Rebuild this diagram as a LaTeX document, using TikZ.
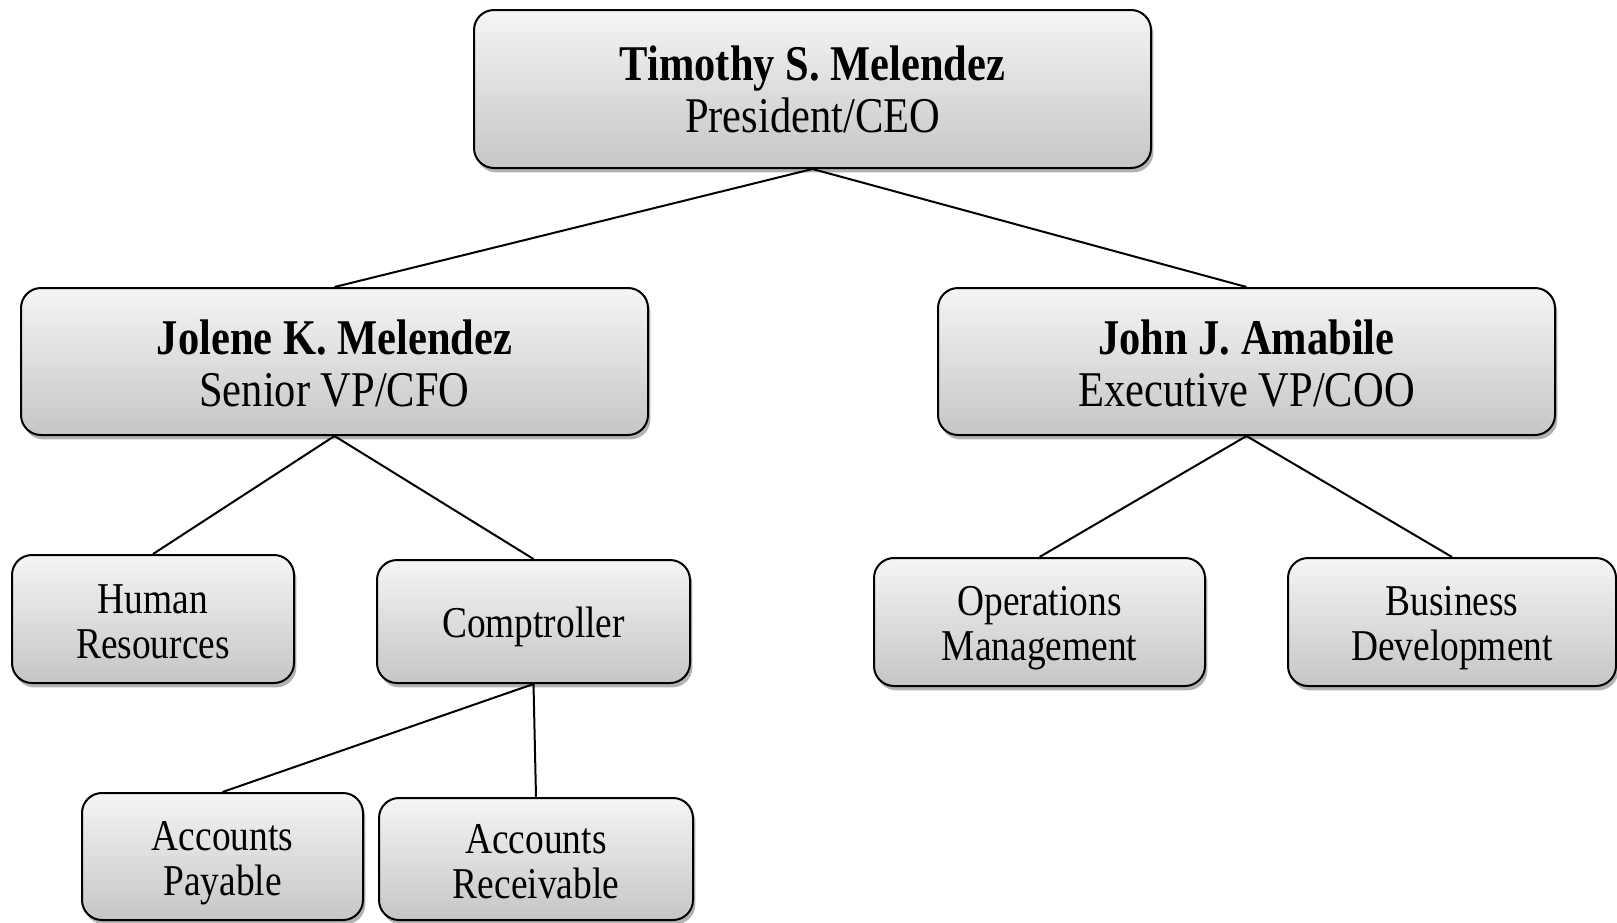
\documentclass[tikz,border=0pt]{standalone}
\usepackage{fontspec}
\setmainfont[FakeStretch=0.85]{Liberation Serif}
\usetikzlibrary{shadows}
\newcommand\tallstrut{\rule{0pt}{20.5pt}}
\newcommand\midstrut{\rule{0pt}{17.6pt}}
\newcommand\bigstrut{\rule{0pt}{19pt}}
\tikzset{
  orgbox/.style={rectangle, rounded corners=10pt, draw=black, line width=1pt,
    top color=gray!8, bottom color=gray!45, align=center, inner sep=0pt,
    drop shadow={shadow xshift=1.2pt, shadow yshift=-2.2pt, fill=black, opacity=0.3}},
  bigtext/.style={font=\fontsize{25pt}{26pt}\selectfont},
  smalltext/.style={font=\fontsize{22pt}{22.5pt}\selectfont},
  link/.style={draw=black, line width=1pt}
}
\begin{document}
\begin{tikzpicture}[x=0.5pt,y=-0.5pt]
\useasboundingbox (0,0) rectangle (1617,922);
\node[orgbox, bigtext, minimum width=338.5pt, minimum height=79pt] (ceo) at (812.5,89)
  {\textbf{Timothy S. Melendez}\\President/CEO};
\node[orgbox, bigtext, minimum width=313.5pt, minimum height=73.5pt] (cfo) at (334.5,361.5)
  {\bigstrut\textbf{Jolene K. Melendez}\\Senior VP/CFO};
\node[orgbox, bigtext, minimum width=308.5pt, minimum height=73.5pt] (coo) at (1246.5,361.5)
  {\bigstrut\textbf{John J. Amabile}\\Executive VP/COO};
\node[orgbox, smalltext, minimum width=141pt, minimum height=64pt] (hr) at (153,619)
  {\midstrut Human\\Resources};
\node[orgbox, smalltext, minimum width=156.5pt, minimum height=61.5pt] (comp) at (533.5,621.5)
  {\tallstrut Comptroller};
\node[orgbox, smalltext, minimum width=165.5pt, minimum height=64pt] (ops) at (1039.5,622)
  {\tallstrut Operations\\Management};
\node[orgbox, smalltext, minimum width=164pt, minimum height=64pt] (bus) at (1452,622)
  {\tallstrut Business\\Development};
\node[orgbox, smalltext, minimum width=140.5pt, minimum height=63.5pt] (ap) at (222.5,856.5)
  {\rule{0pt}{21.5pt}Accounts\\Payable};
\node[orgbox, smalltext, minimum width=157pt, minimum height=61pt] (ar) at (536,859)
  {\midstrut Accounts\\Receivable};
\draw[link] (ceo.south) -- (cfo.north);
\draw[link] (ceo.south) -- (coo.north);
\draw[link] (cfo.south) -- (hr.north);
\draw[link] (cfo.south) -- (comp.north);
\draw[link] (coo.south) -- (ops.north);
\draw[link] (coo.south) -- (bus.north);
\draw[link] (comp.south) -- (ap.north);
\draw[link] (comp.south) -- (ar.north);
\end{tikzpicture}
\end{document}
